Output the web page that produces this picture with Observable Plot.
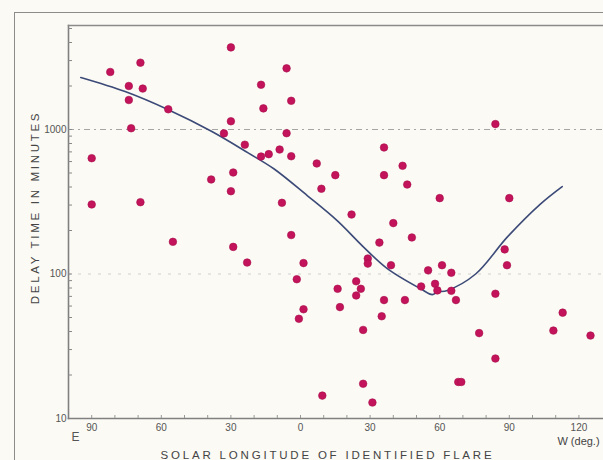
<!DOCTYPE html>
<html>
<head>
<meta charset="utf-8">
<script src="https://cdn.jsdelivr.net/npm/d3@7"></script>
<script src="https://cdn.jsdelivr.net/npm/@observablehq/plot@0.6"></script>
<style>
  html, body { margin: 0; padding: 0; background: #fbfaf4; }
  #wrap { position: relative; width: 603px; height: 460px; overflow: hidden; background: #fbfaf4; }
  #outer { position: absolute; left: 14px; top: 12px; width: 620px; height: 480px;
           border-left: 1.5px solid #8c8c8c; border-top: 1.5px solid #8c8c8c; pointer-events: none; }
  #wrap svg text { font-family: "Liberation Sans", Arial, sans-serif; }
</style>
</head>
<body>
<div id="wrap"></div>
<script>
// Solar longitude of identified flare (E negative, W positive, degrees)
const longitude = [-30, -82, -69, -74, -68, -74, -57, -73, -30, -33,
  -24, -90, -29, -38.5, -30, -90, -69, -6, -17, -4,
  -16, -6, -17, -13.7, -9, -4, 7, 15, 36, 44,
  36, 46, 9, -8, 22, 40, 84, 60, 90, -55,
  -29, -23, -4, 34, 48, 1.3, 29, 29, 39, -1.6,
  24, 26, 16, 24, 36, 45, 52, 1.3, 17, -0.7,
  35, 27, 27, 9.4, 31, 88, 89, 55, 61, 65,
  58, 59, 65, 67, 84, 77, 84, 68, 69.3, 113,
  109, 125];
// Delay time in minutes
const delay = [3700, 2500, 2900, 2000, 1920, 1600, 1380, 1020, 1140, 940,
  785, 633, 504, 451, 374, 303, 314, 2650, 2040, 1580,
  1400, 943, 650, 675, 727, 653, 582, 483, 751, 561,
  483, 416, 389, 311, 258, 225, 1090, 335, 335, 167,
  154, 120, 186, 165, 179, 119, 128, 118, 115, 92,
  89, 79, 79, 71, 66, 66, 82, 57, 59, 49,
  51, 41, 17.4, 14.4, 12.9, 148, 115, 106, 115, 102,
  85.5, 77, 76.5, 66, 73, 39, 26, 17.9, 17.9, 54,
  40.6, 37.5];
// Mean curve
const curveLon = [-94.7, -75.6, -57.2, -38.2, -22.4, -11.5, 2.9, 15.8, 27.3, 37.4,
  51.8, 56.8, 59.0, 63.3, 75.5, 89.1, 103.5, 112.8];
const curveDelay = [2290, 1830, 1375, 968, 686, 535, 349, 234, 153, 109,
  79, 72, 75, 77, 100, 180, 306, 403];

const xTicks = [-90, -60, -30, 0, 30, 60, 90, 120];
const xMinorTicks = [-90, -80, -70, -60, -50, -40, -30, -20, -10, 0, 10, 20, 30, 40, 50, 60, 70, 80, 90, 100, 110, 120];
const yTicks = [10, 100, 1000];
const yMinorTicks = [20, 30, 40, 50, 60, 70, 80, 90, 100, 200, 300, 400, 500, 600, 700, 800, 900, 1000, 2000, 3000, 4000, 5000];

const xTitle = "SOLAR LONGITUDE OF IDENTIFIED FLARE";
const yTitle = "DELAY TIME IN MINUTES";

const points = longitude.map((x, i) => ({x, y: delay[i]}));
const curve = curveLon.map((x, i) => ({x, y: curveDelay[i]}));

const chart = Plot.plot({
  width: 603,
  height: 460,
  marginTop: 25,
  marginLeft: 68,
  marginRight: 0,
  marginBottom: 42,
  style: {background: "transparent", fontFamily: "Liberation Sans, Arial, sans-serif", fontSize: "10px", color: "#555"},
  x: {domain: [-100, 130.6]},
  y: {type: "log", domain: [10, 5245]},
  marks: [
    Plot.ruleY([1000], {stroke: "#a5a5a5", strokeWidth: 1, strokeDasharray: "6,4,2,4"}),
    Plot.ruleY([100], {stroke: "#d0d0d0", strokeWidth: 1, strokeDasharray: "3,7"}),
    Plot.frame({anchor: "left", stroke: "#808080", strokeWidth: 1.6}),
    Plot.frame({anchor: "bottom", stroke: "#808080", strokeWidth: 1.6}),
    Plot.frame({anchor: "top", stroke: "#8a8a8a", strokeWidth: 1.4}),
    Plot.axisY(yMinorTicks, {tickSize: 4, dx: 4, tickFormat: () => "", label: null, stroke: "#888"}),
    Plot.axisY(yTicks, {tickSize: 0, tickPadding: 2, tickFormat: d => String(d), fill: "#555", label: null}),
    Plot.axisX(xMinorTicks, {tickSize: 3, dy: -3, tickFormat: () => "", label: null, stroke: "#999"}),
    Plot.axisX(xTicks, {tickSize: 0, tickPadding: 5, tickFormat: d => String(Math.abs(d)), fill: "#555", label: null}),
    Plot.text([yTitle], {frameAnchor: "left", rotate: -90, textAnchor: "middle", lineAnchor: "middle",
      dx: -33, dy: -14.5, fontSize: 11.5, fill: "#444"}),
    Plot.text([xTitle], {frameAnchor: "bottom", textAnchor: "middle", lineAnchor: "middle",
      dx: -8.5, dy: 37, fontSize: 11.5, fill: "#444"}),
    Plot.text(["E"], {frameAnchor: "bottom-left", textAnchor: "middle", lineAnchor: "middle",
      dx: 7, dy: 19, fontSize: 12, fill: "#555"}),
    Plot.text(["W (deg.)"], {frameAnchor: "bottom-right", textAnchor: "middle", lineAnchor: "middle",
      dx: -25, dy: 23, fontSize: 11, fill: "#444"}),
    Plot.line(curve, {x: "x", y: "y", stroke: "#3c4a78", strokeWidth: 1.6, curve: "catmull-rom"}),
    Plot.dot(points, {x: "x", y: "y", r: 3.8, fill: "#c3135a", stroke: "#a80f4d", strokeWidth: 0.6})
  ]
});
d3.select(chart).selectAll("text")
  .filter(function () { return this.textContent === xTitle; })
  .style("letter-spacing", "2.8px");
d3.select(chart).selectAll("text")
  .filter(function () { return this.textContent === yTitle; })
  .style("letter-spacing", "2.7px");
const wrap = document.getElementById("wrap");
wrap.appendChild(chart);
const outer = document.createElement("div");
outer.id = "outer";
wrap.appendChild(outer);
</script>
</body>
</html>
